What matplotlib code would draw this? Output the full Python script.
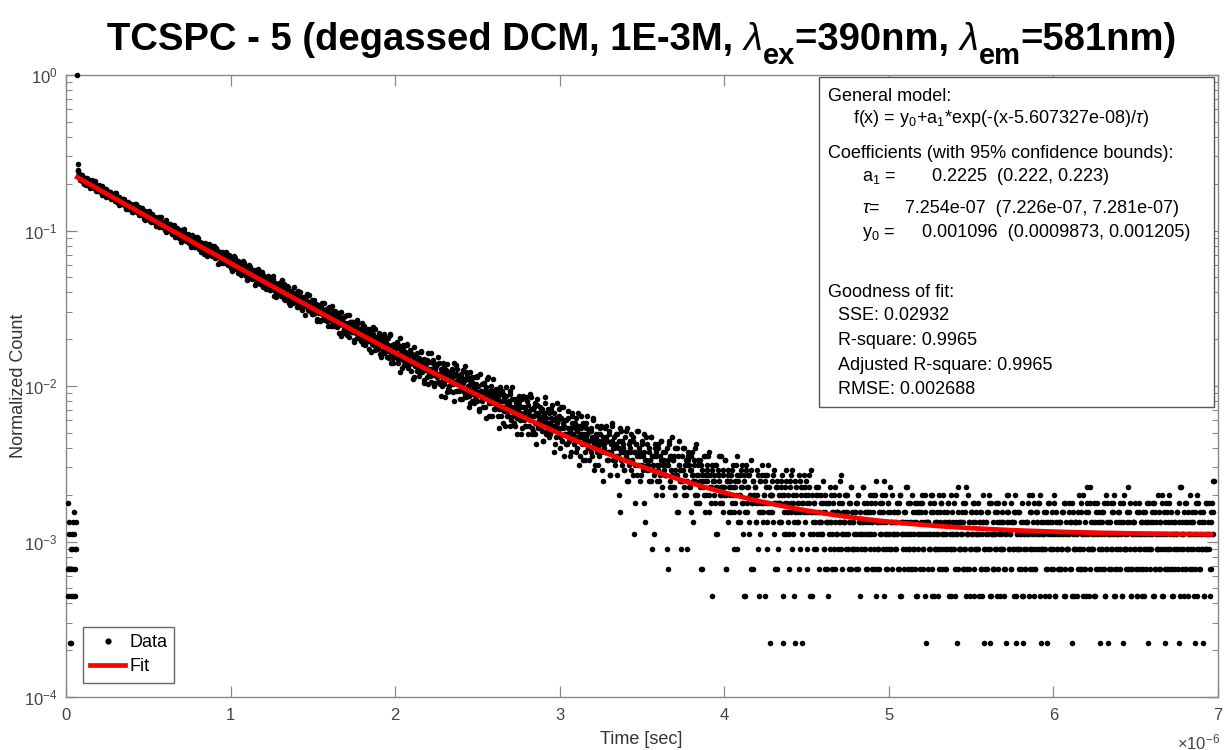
import numpy as np
import matplotlib
matplotlib.use("Agg")
import matplotlib.pyplot as plt
from matplotlib.lines import Line2D
from matplotlib.patches import Rectangle

# ---------------- data: photon counts, two interleaved sets of 5 ns bins ----------------
bin_width = 5e-9            # s
time_offset = 1e-8          # s, time of the first bin
peak_count = 4494           # normalisation (peak = 1)

# set A
counts_rise = [8, 2, 5, 3, 1, 4, 6, 2, 5, 3, 4]
counts_peak = [4494]
counts_decay = [
    1210, 1105, 1040,
    991, 944, 1003, 950, 956, 899, 965, 939, 908, 974,
    908, 938, 863, 910, 952, 862, 877, 859, 892, 805,
    871, 834, 851, 804, 872, 831, 796, 868, 804, 761,
    828, 784, 741, 801, 775, 784, 740, 795, 748, 770,
    725, 750, 783, 697, 727, 708, 737, 654, 719, 695,
    700, 721, 670, 676, 715, 646, 675, 680, 622, 653,
    636, 665, 643, 593, 641, 655, 615, 633, 669, 589,
    628, 592, 569, 601, 590, 625, 564, 589, 571, 522,
    573, 593, 539, 568, 545, 516, 564, 541, 575, 519,
    506, 534, 522, 541, 501, 516, 473, 520, 546, 490,
    505, 471, 513, 482, 487, 437, 492, 472, 458, 494,
    457, 473, 427, 461, 490, 432, 442, 418, 449, 437,
    452, 418, 431, 379, 436, 418, 400, 442, 404, 386,
    410, 424, 375, 394, 383, 407, 420, 371, 385, 350,
    370, 385, 410, 352, 368, 340, 370, 375, 345, 353,
    364, 319, 350, 365, 335, 348, 320, 334, 360, 319,
    306, 331, 340, 315, 319, 349, 302, 320, 275, 320,
    310, 296, 326, 301, 280, 309, 299, 278, 307, 285,
    277, 311, 285, 259, 293, 274, 282, 310, 257, 270,
    283, 259, 240, 268, 271, 246, 277, 255, 251, 278,
    239, 251, 263, 215, 251, 242, 234, 260, 248, 219,
    239, 249, 222, 229, 208, 238, 255, 218, 227, 208,
    216, 226, 195, 233, 214, 204, 223, 193, 210, 230,
    211, 187, 202, 211, 195, 218, 170, 201, 192, 202,
    179, 193, 206, 181, 186, 215, 173, 190, 163, 184,
    190, 171, 175, 194, 153, 177, 184, 168, 169, 153,
    168, 179, 155, 169, 159, 184, 145, 167, 161, 149,
    139, 160, 154, 164, 146, 154, 175, 138, 155, 145,
    154, 141, 160, 131, 143, 134, 146, 152, 118, 141,
    132, 147, 137, 120, 154, 132, 123, 137, 129, 141,
    131, 110, 134, 126, 120, 138, 147, 115, 126, 109,
    118, 126, 108, 132, 118, 111, 124, 94, 117, 113,
    123, 104, 113, 107, 128, 96, 113, 107, 102, 116,
    100, 107, 116, 89, 102, 109, 99, 120, 92, 103,
    104, 88, 98, 106, 90, 110, 82, 96, 93, 90,
    91, 104, 87, 96, 74, 89, 97, 82, 105, 89,
    90, 79, 85, 95, 82, 72, 89, 86, 77, 97,
    73, 82, 86, 76, 92, 68, 78, 97, 72, 81,
    77, 63, 83, 78, 72, 79, 67, 83, 72, 55,
    78, 71, 66, 83, 61, 72, 73, 65, 84, 60,
    64, 75, 56, 67, 70, 64, 51, 68, 70, 63,
    73, 57, 62, 55, 64, 75, 58, 62, 49, 65,
    57, 62, 66, 46, 58, 52, 73, 58, 53, 63,
    59, 47, 55, 60, 51, 53, 63, 46, 54, 39,
    52, 63, 46, 54, 49, 57, 41, 54, 55, 45,
    42, 50, 56, 46, 52, 36, 48, 61, 42, 49,
    51, 42, 45, 54, 37, 47, 43, 50, 39, 55,
    41, 50, 43, 33, 46, 42, 51, 36, 43, 35,
    43, 39, 52, 36, 45, 32, 40, 42, 36, 46,
    33, 42, 38, 44, 28, 39, 51, 35, 40, 35,
    37, 29, 40, 37, 32, 43, 34, 34, 39, 24,
    40, 36, 29, 42, 33, 31, 36, 25, 39, 33,
    29, 36, 42, 25, 33, 31, 29, 37, 26, 33,
    33, 22, 30, 34, 36, 27, 29, 24, 39, 30,
    27, 33, 25, 36, 30, 22, 31, 27, 38, 24,
    29, 23, 33, 26, 19, 30, 34, 24, 29, 25,
    31, 23, 26, 20, 29, 35, 22, 26, 23, 31,
    21, 26, 32, 23, 24, 27, 17, 24, 28, 21,
    26, 23, 29, 18, 24, 33, 20, 26, 16, 22,
    27, 19, 22, 28, 20, 24, 16, 21, 30, 22,
    19, 24, 26, 17, 21, 20, 25, 14, 22, 29,
    21, 15, 25, 20, 17, 26, 22, 18, 23, 15,
    18, 24, 16, 20, 28, 13, 19, 21, 17, 22,
    14, 20, 24, 17, 19, 11, 21, 19, 17, 25,
    20, 15, 17, 22, 12, 17, 20, 25, 15, 18,
    15, 22, 16, 12, 18, 20, 7, 17, 23, 14,
    19, 13, 17, 15, 23, 11, 17, 14, 18, 20,
    13, 15, 21, 5, 17, 14, 19, 12, 23, 16,
    16, 11, 14, 19, 13, 17, 8, 15, 21, 14,
    14, 17, 11, 15, 21, 4, 13, 16, 12, 18,
    9, 14, 18, 13, 11, 16, 20, 10, 14, 15,
    15, 12, 12, 18, 3, 14, 20, 10, 16, 12,
    10, 15, 16, 9, 12, 12, 18, 7, 14, 13,
    13, 4, 11, 18, 10, 14, 15, 9, 11, 16,
    10, 13, 16, 7, 12, 11, 14, 9, 18, 8,
    12, 14, 8, 10, 15, 3, 12, 11, 9, 16,
    7, 11, 14, 12, 9, 17, 10, 8, 13, 11,
    12, 9, 14, 5, 10, 12, 11, 16, 8, 9,
    10, 13, 7, 9, 15, 3, 11, 6, 12, 10,
    9, 12, 8, 14, 10, 7, 11, 9, 16, 4,
    11, 7, 9, 13, 8, 10, 5, 12, 2, 14,
    8, 10, 12, 6, 9, 15, 3, 8, 11, 9,
    10, 6, 8, 13, 4, 7, 11, 5, 8, 12,
    7, 9, 12, 2, 10, 6, 14, 8, 9, 7,
    9, 11, 6, 8, 13, 3, 8, 10, 4, 9,
    8, 6, 10, 12, 1, 9, 5, 8, 11, 7,
    6, 9, 3, 11, 7, 13, 8, 5, 2, 7,
    10, 7, 6, 8, 12, 4, 9, 1, 8, 10,
    7, 9, 11, 3, 8, 7, 10, 5, 13, 2,
]
# set A tail: one base-36 digit per bin (a = 10, b = 11, ...)
counts_tail = (
    "7586947a65 6958473862 8a46579637 5769b48566 7495386a74 "
    "6475839564 5a68467375 7536948263 4687597b54 6385746957 "
    "5647382965 4756a63548 6374586247 5869435716 3654792584 "
    "6745368459 5463786524 7542695346 4658374a55 6347562847 "
    "5426735964 3675481253 6548273645 4763519674 5836467245 "
    "7345621453 4659374562 5376845914 6452736584 3745926453 "
    "5634758264 4576382546 6453947352 5372a54836 4685273541 "
    "6547382465 3564785924 5746352684 4357a64253 6543725846 "
    "5274653648 3645827354 4736582461 5463947325 6357416a53 "
    "4578364256 5364275948 3756412584 46523785b3"
)

# set B: bins offset by half a bin (2.5 ns)
counts_rise_b = [3, 6, 1, 4, 2, 5, 3, 7, 4, 2, 6]
counts_decay_b = [
    1085, 1030, 977,
    951, 985, 1022, 919, 959, 940, 971, 880, 946, 906,
    950, 899, 848, 910, 886, 910, 847, 880, 931, 823,
    857, 807, 862, 877, 811, 825, 758, 836, 795, 813,
    783, 837, 783, 750, 789, 759, 796, 714, 773, 748,
    765, 720, 739, 780, 686, 730, 707, 735, 678, 695,
    663, 698, 719, 665, 674, 622, 682, 665, 681, 643,
    660, 667, 616, 635, 594, 645, 668, 611, 597, 615,
    599, 637, 606, 563, 610, 572, 579, 533, 600, 582,
    590, 543, 556, 602, 538, 552, 510, 556, 531, 508,
    534, 551, 483, 530, 508, 550, 505, 484, 510, 470,
    481, 491, 505, 451, 522, 468, 485, 448, 494, 465,
    474, 434, 462, 446, 471, 406, 440, 469, 421, 450,
    402, 430, 456, 430, 400, 414, 458, 401, 420, 382,
    416, 386, 397, 416, 351, 395, 380, 399, 365, 406,
    374, 350, 381, 403, 356, 377, 329, 362, 374, 347,
    332, 371, 342, 351, 309, 341, 367, 323, 330, 345,
    337, 319, 358, 298, 324, 302, 315, 333, 277, 312,
    298, 319, 278, 299, 323, 300, 278, 327, 286, 269,
    305, 274, 284, 293, 248, 284, 270, 272, 297, 253,
    264, 275, 285, 246, 259, 233, 262, 286, 242, 253,
    262, 228, 250, 252, 236, 268, 224, 239, 232, 250,
    223, 237, 201, 248, 226, 220, 235, 245, 203, 221,
    223, 244, 204, 213, 224, 189, 211, 200, 223, 191,
    186, 206, 210, 195, 229, 196, 184, 208, 169, 198,
    198, 183, 206, 187, 171, 195, 179, 204, 180, 161,
    181, 197, 163, 173, 181, 149, 176, 182, 161, 194,
    157, 165, 178, 145, 166, 170, 155, 181, 144, 162,
    168, 147, 158, 128, 167, 150, 144, 156, 173, 136,
    141, 155, 130, 144, 160, 132, 145, 121, 137, 150,
    145, 117, 138, 146, 130, 139, 154, 119, 130, 122,
    118, 133, 145, 120, 124, 109, 132, 125, 114, 136,
    123, 109, 118, 130, 98, 123, 112, 135, 115, 100,
    110, 126, 99, 115, 110, 103, 129, 93, 116, 105,
    116, 100, 106, 86, 110, 101, 92, 115, 97, 105,
    92, 99, 115, 93, 84, 104, 98, 86, 105, 91,
    99, 78, 92, 100, 84, 108, 86, 93, 77, 89,
    83, 93, 78, 99, 84, 69, 89, 84, 92, 75,
    86, 78, 92, 69, 83, 78, 95, 71, 63, 83,
    68, 84, 77, 80, 71, 86, 63, 72, 91, 69,
    74, 59, 79, 67, 74, 69, 62, 82, 59, 70,
    77, 62, 65, 72, 50, 66, 80, 60, 68, 56,
    61, 68, 52, 65, 74, 55, 60, 67, 47, 61,
    63, 51, 73, 58, 54, 64, 48, 58, 66, 53,
    45, 58, 54, 62, 48, 69, 54, 48, 58, 45,
    57, 49, 60, 38, 54, 50, 62, 43, 50, 52,
    47, 58, 52, 41, 63, 48, 54, 42, 58, 48,
    51, 37, 53, 48, 44, 57, 41, 49, 60, 38,
    52, 45, 39, 55, 35, 46, 48, 40, 44, 51,
    37, 46, 51, 40, 41, 31, 54, 42, 37, 46,
    41, 47, 33, 42, 50, 37, 38, 29, 42, 45,
    36, 42, 50, 32, 39, 37, 42, 29, 39, 32,
    44, 32, 36, 40, 26, 38, 33, 44, 34, 29,
    31, 35, 40, 27, 37, 44, 31, 33, 25, 35,
    37, 28, 32, 39, 30, 33, 22, 37, 33, 28,
    25, 38, 31, 28, 34, 25, 40, 29, 32, 22,
    32, 29, 35, 22, 30, 37, 25, 27, 33, 28,
    25, 32, 20, 30, 27, 38, 28, 22, 32, 25,
    30, 22, 28, 34, 25, 25, 30, 19, 28, 35,
    24, 27, 32, 21, 28, 20, 24, 33, 25, 22,
]
counts_tail_b = (
    "rjovlnhqtm pksinulgom jqmfoltikn nhlrjemkpi gmjpdkiohl "
    "kfnhcjqigl ejmg9iofkh idlgofbjhm fkch8jgnei hckegm6fjd "
    "diflbge5jh gbjeckf9hd che4fjbgdl fadic7gekb bgd9ice4fh "
    "eadh6cfbj9 cf8be3dagc 9dbg7cae2b b8ea5dc9ga 8caf93bd7a "
    "b7d94a8ec6 9c6ae82b7d 7ac59d83b9 a69c82b7e8 69b84c7a19 "
    "97c58a3b86 8b6927ad58 75a8c4961b 9683b7a58c 6a7498c279 "
    "6847a59376 857b496368 5693784a57 7486c35769 9574683a46 "
    "5738496275 6a45738569 4867359b64 7356846293 5784a63657 "
    "4685739256 6374a58463 5946372857 3758462965 6485937246 "
    "5629478356 7354862495 4683517a64 5736482359 6245783645 "
    "4856372614 5637942853 3574685264 6428357946 5364729154 "
    "4753862536 6582473948 3467582645 5746318265 4638527463 "
    "6345728354 4853617426 5274638594 3658472a45 5426385673 "
    "4763529841 6538472365 3574862194 5463738256 4685237453 "
    "6352748165 4576283649 5364925738 3748563254 6457382a46 "
    "5236847593 4765318254 6354726485 5483657b24"
)

# fit coefficients (General model shown in the box)
fit_t0 = 5.607327e-08
fit_a1 = 0.2225
fit_tau = 7.254e-07
fit_y0 = 0.001096

x_tick_values = [0, 1, 2, 3, 4, 5, 6, 7]

# ---------------- style ----------------
plt.rcParams["font.family"] = ["Liberation Sans", "DejaVu Sans"]
plt.rcParams["mathtext.fontset"] = "custom"
plt.rcParams["mathtext.rm"] = "Liberation Sans"
plt.rcParams["mathtext.it"] = "Liberation Sans:italic"
plt.rcParams["mathtext.bf"] = "Liberation Sans:bold"

W, H = 1225, 750
fig = plt.figure(figsize=(W / 100, H / 100), dpi=100)


def fx(px):
    return px / W


def fy(py):
    return 1 - py / H


AX_L, AX_R, AX_T, AX_B = 66, 1218, 75, 697
ax = fig.add_axes([fx(AX_L), fy(AX_B), fx(AX_R) - fx(AX_L), fy(AX_T) - fy(AX_B)])


def decode(s):
    return [int(c, 36) for c in s.replace(" ", "")]


counts_a = np.array(counts_rise + counts_peak + counts_decay + decode(counts_tail), dtype=float)
t_a = time_offset + np.arange(len(counts_a)) * bin_width
after_b = np.array(counts_decay_b + decode(counts_tail_b), dtype=float)
counts_b = np.concatenate([np.array(counts_rise_b, dtype=float), after_b])
t_b = time_offset + np.concatenate([(np.arange(len(counts_rise_b)) + 0.5) * bin_width,
                                    (np.arange(len(after_b)) + 12.5) * bin_width])

t_all = np.concatenate([t_a, t_b])
y_all = np.concatenate([counts_a, counts_b]) / peak_count
keep = (y_all > 0) & (t_all <= 6.975e-6)

ax.plot(t_all[keep], y_all[keep], linestyle="none", marker="o", markersize=4.0,
        markeredgewidth=0, color="black", zorder=2, clip_on=False)

t_fit = np.linspace(fit_t0, 6.97e-6, 800)
y_fit = fit_y0 + fit_a1 * np.exp(-(t_fit - fit_t0) / fit_tau)
ax.plot(t_fit, y_fit, color="#ff0000", linewidth=3.4, zorder=3, solid_capstyle="butt")

ax.set_yscale("log")
ax.set_ylim(1e-4, 1)
ax.set_xlim(0, 7e-6)
ax.set_xticks([v * 1e-6 for v in x_tick_values])
ax.set_xticklabels([str(v) for v in x_tick_values])

spine_col = "#888888"
for s in ax.spines.values():
    s.set_color(spine_col)
    s.set_linewidth(1.0)
    s.set_zorder(1)
ax.tick_params(which="both", direction="in", top=True, right=True,
               color=spine_col, labelcolor="#444444", labelsize=12)
ax.tick_params(which="major", length=8, width=0.9)
ax.tick_params(axis="x", which="major", pad=8)
ax.tick_params(axis="y", which="major", pad=6)
ax.tick_params(which="minor", length=4, width=0.8)
ax.tick_params(axis="x", which="minor", bottom=False, top=False)

# axis labels / offset
fig.text(fx(641), fy(739), "Time [sec]", ha="center", va="center", fontsize=13, color="#333333")
fig.text(fx(19), fy(386), "Normalized Count", ha="center", va="center", rotation=90,
         fontsize=13, color="#333333")
fig.text(fx(1220), fy(742), r"$\times\mathdefault{10^{-6}}$", ha="right", va="center",
         fontsize=12, color="#444444")

# title built from pieces (large MATLAB-style subscripts)
renderer = fig.canvas.get_renderer()
T_FS = 27.5
SUB_FS = 21
bold = dict(fontsize=T_FS, fontweight="bold")
lam = dict(fontsize=T_FS, fontweight="normal", style="italic")
sub = dict(fontsize=SUB_FS, fontweight="bold")
title_pieces = [
    ("TCSPC - 5 (degassed DCM, 1E-3M, ", bold, 0),
    ("\u03bb", lam, 0),
    ("ex", sub, 14),
    ("=390nm, ", bold, 0),
    ("\u03bb", lam, 0),
    ("em", sub, 14),
    ("=581nm)", bold, 0),
]


def text_width(s, kw):
    t1 = fig.text(0, 0, "I" + s + "I", **kw)
    t2 = fig.text(0, 0, "II", **kw)
    w = t1.get_window_extent(renderer).width - t2.get_window_extent(renderer).width
    t1.remove()
    t2.remove()
    return w


widths = [text_width(s, kw) for s, kw, _ in title_pieces]
x0 = 642 - sum(widths) / 2
for (s, kw, dy), w in zip(title_pieces, widths):
    fig.text(fx(x0), fy(50 + dy), s, ha="left", va="baseline", color="black", **kw)
    x0 += w

# fit-results box
fig.patches.append(Rectangle((fx(819), fy(407)), fx(1214) - fx(819), fy(77) - fy(407),
                             transform=fig.transFigure, facecolor="white",
                             edgecolor="#555555", linewidth=1.0, zorder=5))
box_fs = 13
box_text = [
    (828, 101, "General model:"),
    (853, 123, r"f(x) = y$_0$+a$_1$*exp(-(x-5.607327e-08)/$\tau$)"),
    (828, 158, "Coefficients (with 95% confidence bounds):"),
    (862, 181, r"a$_1$ ="),
    (932, 181, "0.2225  (0.222, 0.223)"),
    (862, 213, r"$\tau$="),
    (905, 213, "7.254e-07  (7.226e-07, 7.281e-07)"),
    (862, 237, r"y$_0$ ="),
    (922, 237, "0.001096  (0.0009873, 0.001205)"),
    (828, 297, "Goodness of fit:"),
    (838, 320, "SSE: 0.02932"),
    (838, 345, "R-square: 0.9965"),
    (838, 370, "Adjusted R-square: 0.9965"),
    (838, 394, "RMSE: 0.002688"),
]
for px, py, s in box_text:
    fig.text(fx(px), fy(py), s, ha="left", va="baseline", fontsize=box_fs,
             color="black", zorder=6)

# legend
handles = [
    Line2D([], [], linestyle="none", marker="o", markersize=4.5, markeredgewidth=0, color="black"),
    Line2D([], [], color="#ff0000", linewidth=3.4),
]
leg = ax.legend(handles, ["Data", "Fit"], loc="upper left",
                bbox_to_anchor=(fx(83), fy(627)), bbox_transform=fig.transFigure,
                borderaxespad=0, fontsize=13, handlelength=1.95, handletextpad=0.2,
                borderpad=0.4, labelspacing=0.4, fancybox=False, framealpha=1,
                edgecolor="#666666")
leg.get_frame().set_linewidth(1.0)
leg.set_zorder(10)

fig.savefig("out.png", dpi=100, facecolor="white")
